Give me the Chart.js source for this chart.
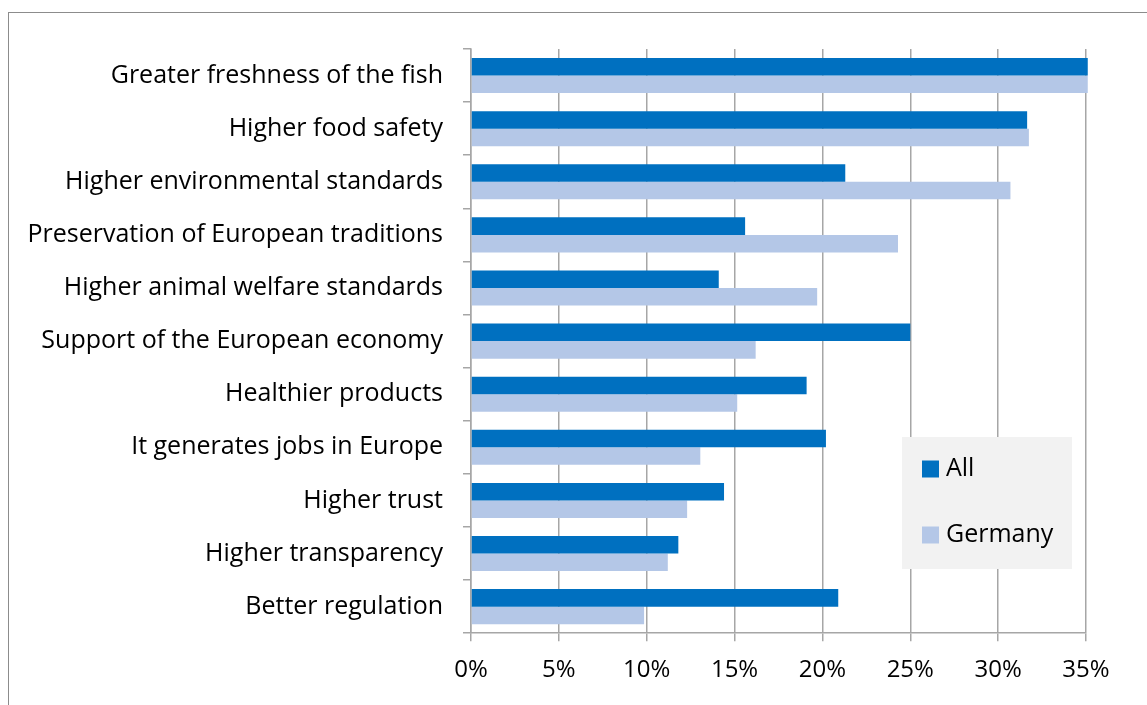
<!DOCTYPE html>
<html>
<head>
<meta charset="utf-8">
<script src="https://cdn.jsdelivr.net/npm/chart.js@4.4.1/dist/chart.umd.min.js"></script>
<style>
  html, body { margin: 0; padding: 0; background: #fff; overflow: hidden; }
  #wrap { position: relative; width: 1147px; height: 705px; }
  #frame { position: absolute; left: 8px; top: 12px; width: 1300px; height: 900px; border: 1px solid #8c8c8c; }
  canvas { position: absolute; left: 0; top: 0; }
</style>
</head>
<body>
<div id="wrap">
  <div id="frame"></div>
  <canvas id="chart" width="1147" height="705"></canvas>
</div>
<script>
const categories = [
  "Greater freshness of the fish",
  "Higher food safety",
  "Higher environmental standards",
  "Preservation of European traditions",
  "Higher animal welfare standards",
  "Support of the European economy",
  "Healthier products",
  "It generates jobs in Europe",
  "Higher trust",
  "Higher transparency",
  "Better regulation",
];
const allValues = [35.1, 31.65, 21.3, 15.6, 14.1, 25.0, 19.1, 20.2, 14.4, 11.8, 20.9];
const germanyValues = [35.1, 31.75, 30.7, 24.3, 19.7, 16.2, 15.15, 13.05, 12.3, 11.2, 9.85];
const seriesNames = ["All", "Germany"];
const xTicks = [0, 5, 10, 15, 20, 25, 30, 35];

const FONT = "'Open Sans', sans-serif";

// Legend box drawn inside the plot area, like the Excel original
const boxLegend = {
  id: "boxLegend",
  afterDatasetsDraw(chart) {
    const ctx = chart.ctx;
    const area = chart.chartArea;
    const left = area.right - 184;
    const top = area.top + 388;
    ctx.save();
    ctx.fillStyle = "#f2f2f2";
    ctx.fillRect(left, top, 170, 132);
    ctx.font = "25px " + FONT;
    ctx.textBaseline = "middle";
    chart.data.datasets.forEach((ds, i) => {
      const cy = top + 32 + i * 66;
      ctx.fillStyle = ds.backgroundColor;
      ctx.fillRect(left + 20, cy - 8.5, 17, 17);
      ctx.fillStyle = "#000";
      ctx.fillText(ds.label, left + 44, cy);
    });
    ctx.restore();
  },
};

const config = {
  type: "bar",
  data: {
    labels: categories,
    datasets: [
      {
        label: seriesNames[0],
        data: allValues,
        backgroundColor: "#0070c0",
        categoryPercentage: 0.66,
        barPercentage: 1.0,
        clip: false,
      },
      {
        label: seriesNames[1],
        data: germanyValues,
        backgroundColor: "#b4c7e7",
        categoryPercentage: 0.66,
        barPercentage: 1.0,
        clip: false,
      },
    ],
  },
  options: {
    indexAxis: "y",
    responsive: false,
    animation: false,
    layout: {
      padding: { left: 0, right: 61, top: 49, bottom: 5 },
    },
    plugins: {
      legend: { display: false },
      tooltip: { enabled: false },
    },
    scales: {
      x: {
        min: 0,
        max: 35,
        afterBuildTicks: (scale) => {
          scale.ticks = xTicks.map((v) => ({ value: v }));
        },
        ticks: {
          color: "#000",
          font: { family: FONT, size: 24 },
          padding: 15,
          callback: (v) => v + "%",
        },
        grid: {
          color: "#a6a6a6",
          lineWidth: 1.5,
          tickLength: 8,
        },
        border: { color: "#a6a6a6", width: 1.5 },
      },
      y: {
        afterFit: (scale) => {
          scale.width = 471;
        },
        ticks: {
          color: "#000",
          font: { family: FONT, size: 25 },
          padding: 20,
        },
        grid: {
          drawOnChartArea: false,
          offset: true,
          tickLength: 8,
          color: "#a6a6a6",
          lineWidth: 1.5,
        },
        border: { color: "#a6a6a6", width: 1.5 },
      },
    },
  },
  plugins: [boxLegend],
};

const chart = new Chart(document.getElementById("chart").getContext("2d"), config);
</script>
</body>
</html>
